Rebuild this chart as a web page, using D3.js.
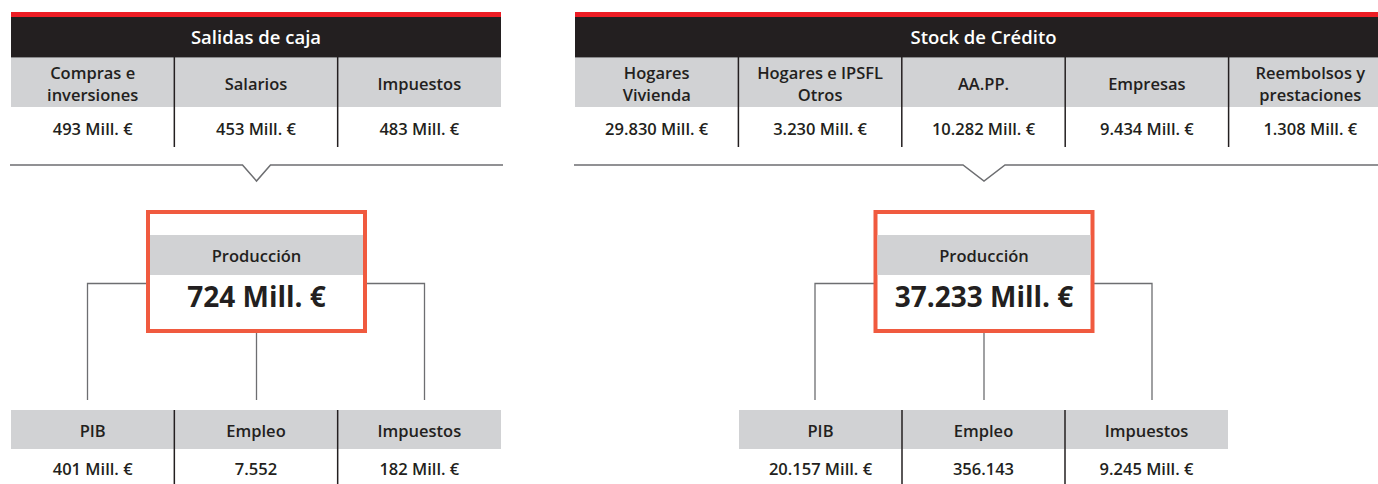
<!DOCTYPE html>
<html>
<head>
<meta charset="utf-8">
<script src="https://cdn.jsdelivr.net/npm/d3@7"></script>
<style>
  body { margin: 0; background: #fff; }
  text { font-family: "Open Sans", Roboto, sans-serif; font-weight: 600; fill: #231f20; }
</style>
</head>
<body>
<script>
// data
const panelTitles = ["Salidas de caja", "Stock de Crédito"];
const topCatsLeft = [["Compras e", "inversiones"], ["Salarios"], ["Impuestos"]];
const topValsLeft = [493, 453, 483];
const topCatsRight = [["Hogares", "Vivienda"], ["Hogares e IPSFL", "Otros"], ["AA.PP."], ["Empresas"], ["Reembolsos y", "prestaciones"]];
const topValsRight = [29830, 3230, 10282, 9434, 1308];
const prodLabel = "Producción";
const prodVals = [724, 37233];
const bottomCats = ["PIB", "Empleo", "Impuestos"];
const bottomUnits = ["Mill. €", "", "Mill. €"];
const bottomValsLeft = [401, 7552, 182];
const bottomValsRight = [20157, 356143, 9245];

const es = d3.formatLocale({decimal: ",", thousands: ".", grouping: [3], currency: ["", " €"]});
const fmt = es.format(",d");

const W = 1378, H = 484;
const svg = d3.select("body").append("svg")
  .attr("width", W).attr("height", H);

const panels = [
  {title: panelTitles[0], cats: topCatsLeft, vals: topValsLeft, prod: prodVals[0],
   bottom: bottomValsLeft, top: [11, 501], bot: [11, 501], center: 256.5, notch: 14},
  {title: panelTitles[1], cats: topCatsRight, vals: topValsRight, prod: prodVals[1],
   bottom: bottomValsRight, top: [575, 1392], bot: [739, 1228], center: 984, notch: 21}
];

panels.forEach(p => {
  const g = svg.append("g");
  const x = d3.scaleBand().domain(p.cats.map((c, i) => i)).range(p.top);
  const [x0, x1] = p.top;

  // red strip + black title bar
  g.append("rect").attr("x", x0).attr("y", 12).attr("width", x1 - x0).attr("height", 5).attr("fill", "#ed1c24");
  g.append("rect").attr("x", x0).attr("y", 17).attr("width", x1 - x0).attr("height", 40).attr("fill", "#231f20");
  g.append("text").attr("x", (x0 + x1) / 2).attr("y", 36.5)
    .attr("text-anchor", "middle").attr("dominant-baseline", "central")
    .style("fill", "#fff").style("font-size", "18.5px").text(p.title);

  // gray header row
  g.append("rect").attr("x", x0).attr("y", 57).attr("width", x1 - x0).attr("height", 50).attr("fill", "#d1d2d4");
  g.append("line").attr("x1", x0).attr("x2", x1).attr("y1", 57.5).attr("y2", 57.5).attr("stroke", "#8a8a8c").attr("stroke-width", 1);

  p.cats.forEach((c, i) => {
    const cx = x(i) + x.bandwidth() / 2;
    const t = g.append("text").attr("text-anchor", "middle").style("font-size", "16.5px");
    c.forEach((line, j) => {
      const cy = c.length === 1 ? 83 : 72 + j * 22;
      t.append("tspan").attr("x", cx).attr("y", cy).attr("dominant-baseline", "central").text(line);
    });
    g.append("text").attr("x", cx).attr("y", 128)
      .attr("text-anchor", "middle").attr("dominant-baseline", "central")
      .style("font-size", "16.5px").text(fmt(p.vals[i]) + " Mill. €");
    if (i > 0) {
      g.append("line").attr("x1", x(i)).attr("x2", x(i)).attr("y1", 57).attr("y2", 147)
        .attr("stroke", "#231f20").attr("stroke-width", 1.5);
    }
  });

  // separator line with notch
  const c = p.center;
  g.append("path")
    .attr("d", d3.line()([[x0 - 1, 165], [c - p.notch, 165], [c, 181], [c + p.notch, 165], [Math.min(x1 + 2, W + 5), 165]]))
    .attr("fill", "none").attr("stroke", "#6d6e71").attr("stroke-width", 1.5);

  // connectors
  const conn = g.append("g").attr("fill", "none").attr("stroke", "#6d6e71").attr("stroke-width", 1.3);
  conn.append("path").attr("d", d3.line()([[c - 110, 283.5], [c - 169, 283.5], [c - 169, 400]]));
  conn.append("path").attr("d", d3.line()([[c + 110, 283.5], [c + 168, 283.5], [c + 168, 400]]));
  conn.append("path").attr("d", d3.line()([[c, 333], [c, 400]]));

  // production box
  g.append("rect").attr("x", c - 108.5).attr("y", 212).attr("width", 217).attr("height", 119)
    .attr("fill", "#fff").attr("stroke", "#f05a3f").attr("stroke-width", 4);
  g.append("rect").attr("x", c - 106.5).attr("y", 235).attr("width", 213).attr("height", 40).attr("fill", "#d1d2d4");
  g.append("text").attr("x", c).attr("y", 255).attr("text-anchor", "middle").attr("dominant-baseline", "central")
    .style("font-size", "16.5px").text(prodLabel);
  g.append("text").attr("x", c).attr("y", 296).attr("text-anchor", "middle").attr("dominant-baseline", "central")
    .style("font-size", "28px").style("font-weight", "700").text(fmt(p.prod) + " Mill. €");

  // bottom table
  const xb = d3.scaleBand().domain(bottomCats).range(p.bot);
  g.append("rect").attr("x", p.bot[0]).attr("y", 410).attr("width", p.bot[1] - p.bot[0]).attr("height", 39).attr("fill", "#d1d2d4");
  bottomCats.forEach((cat, i) => {
    const cx = xb(cat) + xb.bandwidth() / 2;
    g.append("text").attr("x", cx).attr("y", 430).attr("text-anchor", "middle").attr("dominant-baseline", "central")
      .style("font-size", "16.5px").text(cat);
    const u = bottomUnits[i];
    g.append("text").attr("x", cx).attr("y", 468).attr("text-anchor", "middle").attr("dominant-baseline", "central")
      .style("font-size", "16.5px").text(fmt(p.bottom[i]) + (u ? " " + u : ""));
    if (i > 0) {
      g.append("line").attr("x1", xb(cat)).attr("x2", xb(cat)).attr("y1", 410).attr("y2", 484)
        .attr("stroke", "#231f20").attr("stroke-width", 1.5);
    }
  });
});
</script>
</body>
</html>
